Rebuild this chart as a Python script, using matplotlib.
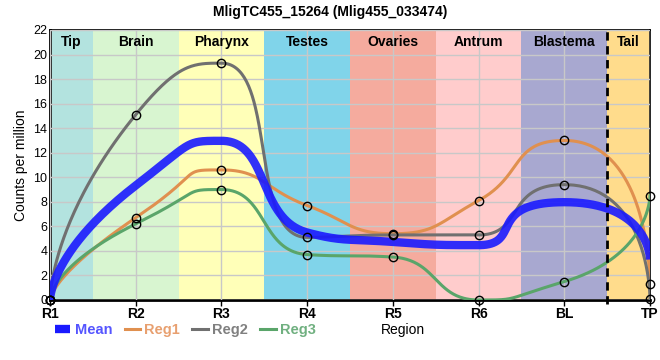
import numpy as np
import matplotlib
matplotlib.use("Agg")
import matplotlib.pyplot as plt
from matplotlib.lines import Line2D

plt.rcParams['font.family'] = ['Liberation Sans', 'DejaVu Sans']

samples = ["R1", "R2", "R3", "R4", "R5", "R6", "BL", "TP"]
reg1 = [0.0, 6.7, 10.6, 7.7, 5.4, 8.1, 13.0, 1.3]
reg2 = [0.0, 15.1, 19.3, 5.1, 5.3, 5.3, 9.4, 0.1]
reg3 = [0.0, 6.2, 9.0, 3.7, 3.5, 0.0, 1.5, 8.5]
mean = [0.0, 9.33, 12.97, 5.5, 4.73, 4.47, 7.97, 3.3]

regions = ["Tip", "Brain", "Pharynx", "Testes", "Ovaries", "Antrum", "Blastema", "Tail"]
region_edges = [0, 0.5, 1.5, 2.5, 3.5, 4.5, 5.5, 6.5, 7]
region_colors = ["#b3e3df", "#d8f5d0", "#ffffb8", "#80d4ea", "#f5ab9e", "#ffcccc", "#a8a8d0", "#ffdc8c"]


def smooth_line(xv, yv, smooth=0.5, edge_smooth=1.0, sx=600/7, sy=270/22, n=80):
    # bezier smoothing with clamped control points, worked out in pixel units
    P = [(a * sx, b * sy) for a, b in zip(xv, yv)]
    m = len(P)
    t = np.linspace(0, 1, n)
    xs, ys = [], []
    cp0 = P[0]
    for i in range(1, m):
        x, y = P[i]
        px, py = P[i-1]
        s = edge_smooth if i in (1, m - 2) else smooth
        if i == m - 1:
            cp1 = (x, y); ncp = None
        else:
            nx, ny = P[i+1]
            vx, vy = nx - px, ny - py
            lp = np.hypot(x - px, y - py); ln = np.hypot(nx - x, ny - y)
            r = ln / (ln + lp)
            cx = x + vx * s * r; cy = y + vy * s * r
            cx = max(min(cx, max(nx, x)), min(nx, x))
            cy = max(min(cy, max(ny, y)), min(ny, y))
            vx, vy = cx - x, cy - y
            c1x = x - vx * lp / ln; c1y = y - vy * lp / ln
            c1x = max(min(c1x, max(px, x)), min(px, x))
            c1y = max(min(c1y, max(py, y)), min(py, y))
            vx, vy = x - c1x, y - c1y
            cp1 = (c1x, c1y)
            ncp = (x + vx * ln / lp, y + vy * ln / lp)
        b0 = (1-t)**3; b1 = 3*(1-t)**2*t; b2 = 3*(1-t)*t**2; b3 = t**3
        xs.append(b0*px + b1*cp0[0] + b2*cp1[0] + b3*x)
        ys.append(b0*py + b1*cp0[1] + b2*cp1[1] + b3*y)
        cp0 = ncp
    return np.concatenate(xs) / sx, np.concatenate(ys) / sy


fig = plt.figure(figsize=(6.6, 3.6), dpi=100)
ax = fig.add_axes([50/660, 1-300/360, 600/660, 270/360])
xpos = np.arange(len(samples))

for name, a, b, c in zip(regions, region_edges[:-1], region_edges[1:], region_colors):
    ax.axvspan(a, b, color=c, lw=0, zorder=0)
    ax.text((a + b) / 2, 21.6, name, ha='center', va='top', fontsize=10, fontweight='bold', zorder=5)

ax.set_axisbelow(False)
ax.grid(True, color='#c8c8c8', lw=1, zorder=1)
ax.plot([6.5, 6.5], [-0.35, 22], color='black', lw=2, ls=(0, (3, 2)), zorder=6, clip_on=False)

series = [("Reg1", reg1, "#e0904f"), ("Reg2", reg2, "#707070"), ("Reg3", reg3, "#5aa56a")]
for name, vals, col in series:
    sx, sy = smooth_line(xpos, vals)
    ax.plot(sx, sy, color=col, lw=2.2, zorder=3)
sx, sy = smooth_line(xpos, mean)
ax.plot(sx, sy, color='#1a1aff', lw=6, alpha=0.9, zorder=4, solid_capstyle='butt')
for name, vals, col in series:
    ax.plot(xpos, vals, 'o', ms=6, mfc='none', mec='black', mew=1, zorder=7, clip_on=False)

ax.set_xlim(0, 7)
ax.set_ylim(0, 22)
ax.set_xticks(xpos)
ax.set_xticklabels(samples, fontsize=10, fontweight='bold')
ax.set_yticks(range(0, 23, 2))
ax.tick_params(axis='y', labelsize=9, length=0, pad=2)
ax.tick_params(axis='x', length=4, width=1, pad=1)
ax.set_ylabel("Counts per million", fontsize=10)
ax.set_xlabel("Region", fontsize=10, labelpad=3)
ax.xaxis.set_label_coords(353/600, -30/270)
ax.xaxis.label.set_va('center')
for sp in ['left', 'bottom']:
    ax.spines[sp].set_linewidth(2)
for sp in ['right', 'top']:
    ax.spines[sp].set_linewidth(1.2)

handles = [Line2D([], [], color='#1a1aff', lw=6, solid_capstyle='butt')] + \
          [Line2D([], [], color=col, lw=2.2) for _, _, col in series]
labels = ["Mean", "Reg1", "Reg2", "Reg3"]
leg = fig.legend(handles, labels, loc='center left', bbox_to_anchor=(55/660, 1-330/360), ncol=4,
                 frameon=False, fontsize=10.5, handlelength=1.05, handletextpad=0.3, columnspacing=0.85,
                 borderpad=0, borderaxespad=0,
                 labelcolor=['#5555ff', '#e8a070', '#808080', '#70b080'])
for t in leg.get_texts():
    t.set_fontweight('bold')

fig.suptitle("MligTC455_15264 (Mlig455_033474)", fontsize=10, fontweight='bold', y=0.985)
fig.savefig("out.png", dpi=100)
